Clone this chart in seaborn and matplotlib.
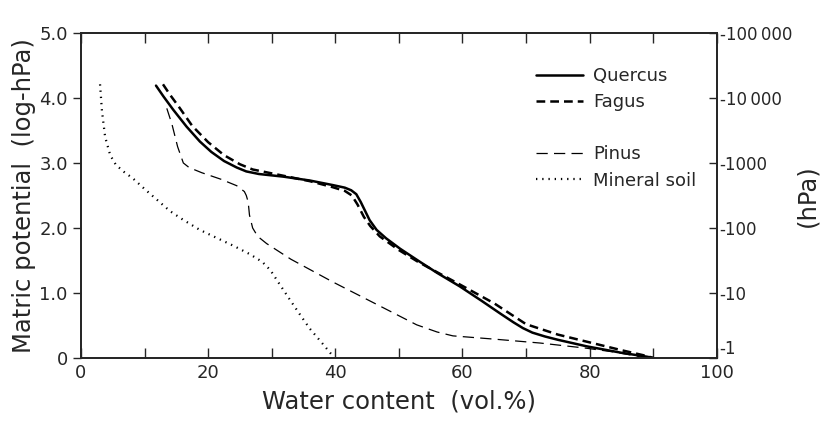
import matplotlib
matplotlib.use('Agg')
import matplotlib.pyplot as plt
from matplotlib.lines import Line2D
import seaborn as sns
import pandas as pd

# Water retention curves (x = water content vol.%, y = log hPa)
quercus_x = [11.8, 13.0, 14.5, 16.6, 18.7, 20.5, 22.5, 24.5, 26.0, 28.0, 31.8, 36.0, 39.6, 41.5, 42.5, 43.3, 44.0, 44.7, 45.4, 46.5, 48.0, 50.2, 53.3, 56.0, 59.6, 63.0, 66.0, 68.0, 69.5, 71.0, 73.0, 75.0, 79.5, 85.0, 89.0, 90.0]
quercus_y = [4.19, 4.02, 3.82, 3.56, 3.33, 3.17, 3.03, 2.93, 2.87, 2.83, 2.79, 2.73, 2.66, 2.62, 2.58, 2.52, 2.40, 2.26, 2.12, 1.97, 1.84, 1.68, 1.48, 1.31, 1.10, 0.88, 0.68, 0.55, 0.46, 0.39, 0.33, 0.28, 0.18, 0.08, 0.02, 0.0]

fagus_x = [12.9, 14.0, 15.5, 17.5, 20.0, 22.5, 25.0, 27.0, 31.0, 36.0, 39.5, 41.5, 42.6, 43.5, 44.5, 45.5, 47.0, 50.0, 53.0, 56.0, 59.6, 65.0, 70.0, 75.0, 80.0, 85.0, 89.0, 90.0]
fagus_y = [4.21, 4.05, 3.85, 3.57, 3.32, 3.12, 2.98, 2.90, 2.82, 2.72, 2.63, 2.57, 2.50, 2.36, 2.17, 2.03, 1.87, 1.66, 1.48, 1.32, 1.13, 0.84, 0.52, 0.36, 0.24, 0.12, 0.03, 0.0]

pinus_x = [13.5, 14.3, 15.2, 16.1, 17.0, 19.0, 22.0, 24.5, 25.7, 26.0, 26.3, 26.5, 27.0, 27.8, 29.2, 33.0, 39.6, 46.0, 52.8, 56.0, 58.5, 65.0, 72.2, 79.5, 84.0, 87.9]
pinus_y = [3.84, 3.60, 3.25, 3.00, 2.93, 2.85, 2.75, 2.65, 2.56, 2.50, 2.40, 2.20, 2.00, 1.87, 1.76, 1.52, 1.17, 0.85, 0.51, 0.40, 0.34, 0.29, 0.23, 0.15, 0.09, 0.02]

mineral_x = [3.0, 3.3, 3.8, 4.6, 5.5, 6.8, 8.2, 10.0, 12.0, 14.0, 16.0, 18.7, 21.5, 23.9, 26.5, 28.5, 29.8, 31.0, 32.9, 34.5, 36.0, 38.0, 39.7]
mineral_y = [4.21, 3.80, 3.40, 3.12, 2.97, 2.86, 2.76, 2.60, 2.43, 2.26, 2.13, 1.97, 1.84, 1.73, 1.60, 1.48, 1.35, 1.17, 0.89, 0.66, 0.45, 0.22, 0.02]

y_ticks = [0, 1, 2, 3, 4, 5]
y_tick_labels = ['0', '1.0', '2.0', '3.0', '4.0', '5.0']
right_tick_labels = ['-1', '-10', '-100', '-1000', '-10\u2009000', '-100\u2009000']

sns.set_style('ticks')
plt.rcParams['font.family'] = ['DejaVu Sans']

fig = plt.figure(figsize=(8.22, 4.28), dpi=100)
ax = fig.add_axes([0.0985, 0.1636, 0.7735, 0.7594])

series = [
    ('Quercus', quercus_x, quercus_y, dict(lw=1.8, ls='-')),
    ('Fagus', fagus_x, fagus_y, dict(lw=1.8, ls=(0, (3.5, 2)))),
    ('Pinus', pinus_x, pinus_y, dict(lw=0.9, ls=(0, (9, 5)))),
    ('Mineral soil', mineral_x, mineral_y, dict(lw=1.6, ls=(0, (0.6, 2.2)))),
]
for name, xs, ys, style in series:
    df = pd.DataFrame({'x': xs, 'y': ys})
    sns.lineplot(data=df, x='x', y='y', ax=ax, color='black', sort=False,
                 label=name, **style)

ax.set_xlim(0, 100)
ax.set_ylim(0, 5)
ax.set_xticks(range(0, 101, 10))
ax.set_xticklabels(['0', '', '20', '', '40', '', '60', '', '80', '', '100'])
ax.set_yticks(y_ticks)
ax.set_yticklabels(y_tick_labels)
ax.tick_params(axis='x', direction='in', length=7, width=1, top=True, labelsize=13, pad=4)
ax.tick_params(axis='y', direction='out', length=6, width=1, labelsize=13)
for s in ax.spines.values():
    s.set_linewidth(1.3)

ax2 = ax.twinx()
ax2.set_ylim(0, 5)
ax2.set_yticks(y_ticks)
ax2.set_yticklabels(right_tick_labels)
ax2.tick_params(axis='y', direction='in', length=6, width=1, labelsize=12, pad=2)
ax2.get_yticklabels()[0].set_verticalalignment('bottom')
for s in ax2.spines.values():
    s.set_linewidth(1.3)

ax.set_xlabel('Water content  (vol.%)', fontsize=17.5, labelpad=6)
ax.set_ylabel('Matric potential  (log-hPa)', fontsize=17.5)
ax.yaxis.set_label_coords(-0.07, 0.5)
ax2.set_ylabel('(hPa)', fontsize=17.5)
ax2.yaxis.set_label_coords(1.124, 0.5)

handles, labels = ax.get_legend_handles_labels()
blank = Line2D([], [], color='none')
handles = handles[:2] + [blank] + handles[2:]
labels = labels[:2] + [' '] + labels[2:]
ax.legend(handles, labels, loc='upper left', bbox_to_anchor=(0.715, 0.895),
          borderaxespad=0, borderpad=0, frameon=False, fontsize=13,
          handlelength=2.6, handletextpad=0.6, labelspacing=0.45)

fig.savefig('out.png', dpi=100)
